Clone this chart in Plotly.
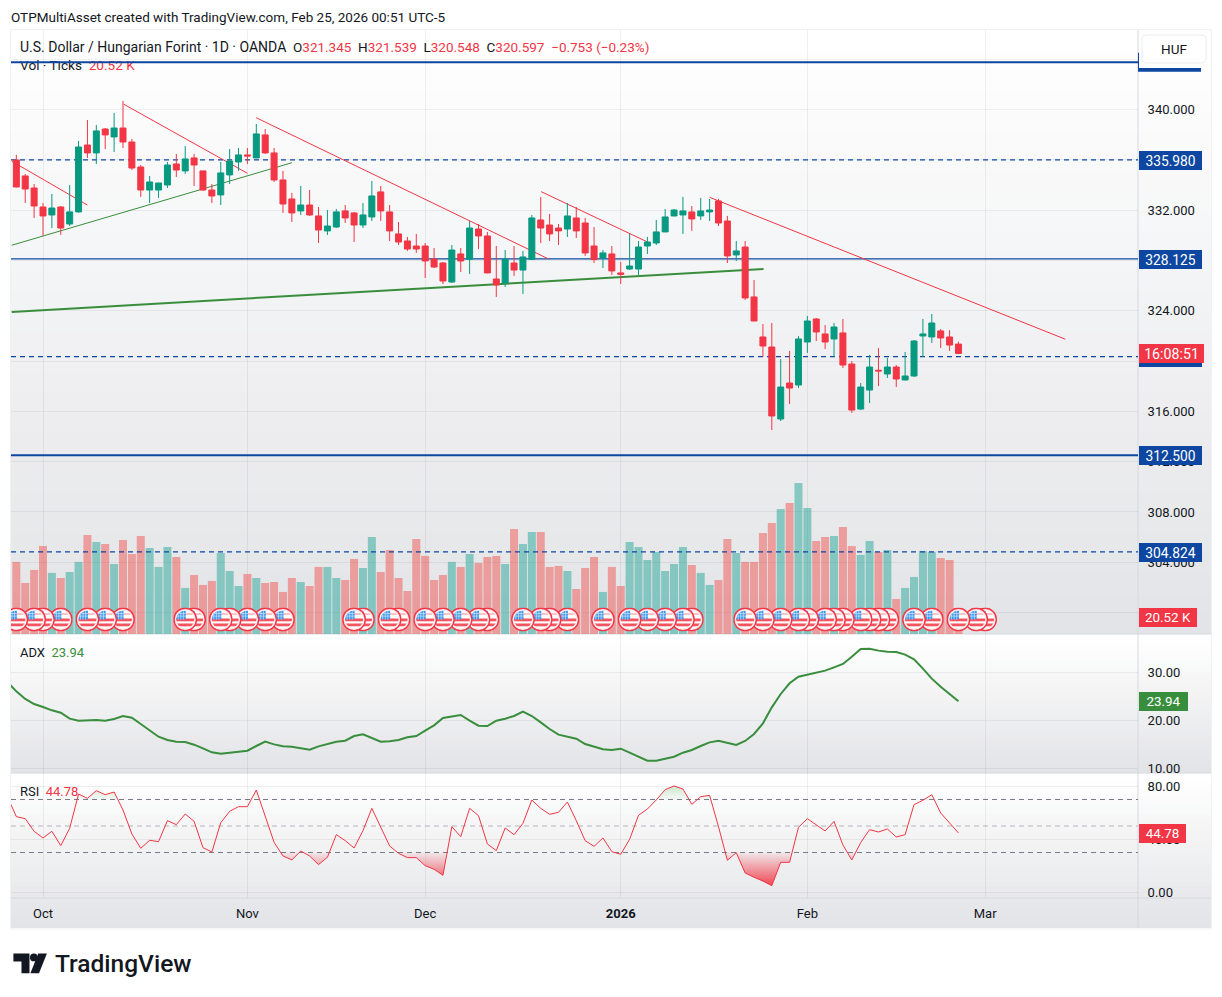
import base64
import plotly.graph_objects as go

W, H = 1222, 997

# Daily USD/HUF bars, oldest first; bar_index 0 is Sep 26 2025
bar_open = [335.98, 334.71, 333.75, 332.24, 331.61, 332.24, 330.89, 331.85, 337.17, 336.54,
            338.44, 337.81, 338.52, 337.41, 335.42, 333.59, 333.59, 333.99, 335.66, 335.11,
            336.14, 335.11, 333.59, 333.20, 334.79, 335.82, 336.38, 336.14, 337.97, 336.54,
            334.39, 332.88, 331.93, 332.40, 331.53, 330.34, 330.65, 331.93, 331.77, 330.81,
            331.45, 333.44, 331.85, 330.10, 329.54, 329.14, 329.14, 328.11, 327.79, 326.28,
            328.51, 328.08, 330.49, 329.94, 326.52, 326.20, 327.79, 327.23, 328.08, 331.21,
            330.81, 330.57, 330.49, 331.37, 330.97, 329.14, 328.19, 328.51, 327.00, 327.31,
            327.31, 329.14, 329.38, 330.26, 331.53, 331.61, 331.85, 331.53, 331.85, 332.72,
            331.13, 328.43, 329.06, 325.09, 321.91, 321.11, 315.39, 318.25, 318.09, 321.51,
            323.34, 322.15, 321.75, 322.23, 319.76, 316.18, 317.69, 319.26, 318.97, 319.52,
            318.49, 318.81, 321.99, 321.91, 322.39, 321.91, 321.345]
bar_high = [336.38, 334.87, 334.07, 332.56, 333.28, 332.32, 333.99, 337.49, 339.16, 338.76,
            338.52, 339.72, 340.67, 337.65, 335.58, 334.71, 334.15, 335.82, 336.46, 337.09,
            336.46, 335.11, 334.07, 335.82, 336.85, 336.93, 336.93, 338.84, 338.44, 336.93,
            335.11, 333.36, 333.91, 333.59, 332.24, 332.00, 332.08, 332.40, 331.85, 332.56,
            334.31, 333.91, 332.40, 331.05, 329.86, 330.10, 329.38, 328.98, 327.87, 329.22,
            328.98, 331.13, 330.89, 330.26, 329.14, 328.82, 329.14, 328.75, 331.61, 333.04,
            331.69, 330.89, 332.56, 332.24, 331.37, 330.65, 328.82, 329.14, 327.87, 330.10,
            329.54, 329.86, 331.21, 332.08, 332.08, 333.04, 332.32, 332.96, 332.88, 332.88,
            331.53, 329.54, 329.54, 326.44, 322.94, 323.02, 320.16, 320.80, 321.99, 323.58,
            323.42, 322.86, 323.02, 323.34, 320.00, 318.25, 320.48, 321.03, 320.24, 319.68,
            320.72, 321.67, 323.34, 323.74, 322.54, 322.46, 321.539]
bar_low = [333.80, 332.56, 331.37, 329.94, 330.57, 330.02, 330.73, 331.80, 336.14, 335.66,
           336.85, 336.62, 336.93, 335.18, 333.04, 332.56, 332.96, 333.75, 334.63, 334.87,
           333.91, 333.52, 332.56, 332.40, 334.07, 335.11, 335.66, 336.12, 336.46, 334.23,
           331.77, 331.05, 331.61, 331.53, 329.38, 330.02, 330.57, 330.97, 329.46, 330.57,
           331.13, 331.13, 329.54, 329.22, 328.75, 328.59, 326.60, 327.39, 326.12, 326.20,
           327.08, 326.92, 328.90, 326.98, 325.09, 325.88, 326.76, 325.33, 328.05, 329.38,
           329.54, 329.22, 329.86, 329.78, 328.35, 327.79, 327.39, 326.84, 326.12, 327.23,
           326.84, 328.51, 329.22, 330.24, 331.50, 330.10, 330.34, 331.21, 331.13, 330.73,
           327.79, 327.95, 324.85, 323.16, 320.34, 314.51, 315.23, 316.58, 317.85, 320.64,
           321.59, 320.95, 320.32, 319.44, 315.87, 316.10, 316.66, 318.01, 318.65, 317.93,
           318.47, 318.73, 320.32, 321.43, 321.03, 320.80, 320.548]
bar_close = [333.83, 333.67, 332.32, 331.53, 332.16, 330.57, 331.85, 337.01, 336.54, 338.29,
             337.97, 338.52, 337.41, 335.34, 333.59, 334.23, 334.15, 335.58, 335.18, 336.06,
             335.58, 333.59, 333.12, 334.95, 335.90, 336.38, 336.30, 338.05, 336.54, 334.39,
             332.48, 331.77, 332.40, 331.61, 330.41, 330.73, 331.85, 331.37, 330.81, 331.61,
             333.12, 331.93, 330.34, 329.46, 328.90, 328.90, 327.95, 327.47, 326.36, 328.82,
             327.95, 330.57, 329.94, 327.00, 326.04, 328.08, 327.23, 328.27, 331.37, 330.57,
             330.10, 330.34, 331.53, 330.34, 328.59, 328.06, 328.59, 327.16, 326.89, 327.55,
             329.06, 329.46, 330.26, 331.45, 332.00, 331.93, 331.29, 331.93, 332.00, 330.97,
             328.35, 328.75, 325.01, 323.18, 321.19, 315.63, 317.93, 317.85, 321.75, 323.18,
             322.31, 321.51, 322.70, 319.68, 316.10, 317.93, 319.52, 319.21, 319.52, 318.57,
             318.81, 321.59, 322.15, 323.02, 321.83, 321.27, 320.597]

# Tick volume in thousands
volume_k = [84.5, 59.8, 75.1, 103.2, 71.6, 65.7, 72.7, 84.5, 116.1, 107.9,
            105.6, 82.1, 110.3, 93.8, 115.0, 100.9, 78.6, 102.1, 90.3, 54.0,
            69.2, 57.5, 62.2, 95.0, 73.9, 56.3, 70.4, 65.7, 59.8, 61.0,
            49.3, 65.7, 61.0, 56.3, 78.6, 78.6, 65.7, 63.3, 88.0, 77.4,
            113.8, 72.7, 98.5, 65.7, 50.4, 111.4, 91.5, 63.3, 69.2, 84.5,
            78.6, 93.8, 83.3, 90.3, 91.5, 82.1, 123.2, 105.6, 119.6, 119.6,
            78.6, 79.8, 73.9, 52.8, 77.4, 90.3, 49.3, 78.6, 56.3, 107.9,
            102.1, 86.8, 96.2, 73.9, 82.1, 102.1, 80.9, 71.6, 57.5, 63.3,
            111.4, 95.0, 84.5, 84.5, 118.5, 130.2, 146.6, 153.7, 177.1, 147.8,
            109.1, 113.8, 115.0, 125.5, 103.2, 92.7, 109.1, 96.2, 98.5, 41.1,
            54.0, 66.9, 97.4, 96.2, 89.1, 86.8, 20.52]

# Oscillators start one session earlier so the lines run off the left edge
osc_index = list(range(-1, 107))
adx_values = [27.95, 26.01, 24.42, 23.38, 22.76, 22.07, 21.58, 20.34, 19.92, 20.06, 20.06,
              19.92, 20.27, 20.89, 20.55, 19.23, 17.85, 16.60, 15.91, 15.57, 15.50,
              14.94, 14.18, 13.35, 13.08, 13.28, 13.42, 13.70, 14.67, 15.57, 15.01,
              14.60, 14.53, 14.18, 13.91, 14.60, 15.15, 15.57, 15.77, 16.74, 17.09,
              16.33, 15.57, 15.64, 15.91, 16.47, 16.74, 17.85, 18.96, 20.48, 20.75,
              21.10, 19.92, 18.89, 18.82, 19.92, 20.34, 20.89, 21.79, 20.89, 19.58,
              18.19, 17.02, 16.60, 16.19, 15.08, 14.46, 13.98, 13.84, 14.11, 13.28,
              12.45, 11.62, 11.62, 12.04, 12.45, 13.28, 13.84, 14.67, 15.43, 15.77,
              15.36, 14.88, 15.71, 17.16, 19.37, 22.69, 25.46, 27.67, 29.05, 29.47,
              29.88, 30.30, 30.99, 31.68, 33.20, 34.79, 34.86, 34.45, 34.24, 34.17,
              33.62, 32.65, 30.71, 28.64, 26.98, 25.46, 23.94]
rsi_values = [72.15, 57.07, 55.56, 46.01, 40.98, 46.01, 35.20, 48.27, 74.16, 70.89, 76.68,
              73.66, 75.67, 62.10, 44.00, 33.18, 39.22, 38.21, 54.05, 51.03, 59.08,
              53.55, 33.69, 30.42, 52.54, 61.09, 64.61, 64.61, 77.18, 57.07, 37.71,
              27.40, 24.39, 31.17, 27.40, 20.87, 26.40, 43.49, 38.97, 33.44, 46.51,
              63.35, 49.53, 34.94, 29.41, 26.15, 26.15, 20.11, 17.35, 12.82, 49.53,
              41.98, 63.35, 57.82, 36.45, 31.43, 48.52, 43.49, 52.04, 69.64, 63.35,
              58.83, 60.34, 68.13, 54.05, 38.97, 34.69, 40.98, 30.67, 28.66, 39.97,
              58.07, 62.85, 69.64, 77.43, 80.20, 77.93, 66.37, 72.15, 73.16, 49.53,
              24.13, 29.92, 14.58, 11.31, 8.55, 5.03, 22.63, 22.63, 49.02, 55.56,
              50.78, 46.26, 53.55, 35.70, 24.39, 37.46, 47.26, 45.50, 47.77, 41.73,
              43.49, 66.12, 69.39, 73.66, 59.83, 52.54, 44.78]

# Horizontal levels: (price, width, dash)
price_levels = [(343.75, 2, "solid"), (335.98, 1.2, "5px,4px"), (328.125, 1.2, "solid"),
                (320.34, 1.2, "5px,4px"), (312.5, 2, "solid"), (304.824, 1.2, "5px,4px")]
level_tags = [335.98, 328.125, 312.5, 304.824]
covered_level_tag = 320.34

# Trend lines as (start index, start price, end index, end price, colour, width)
trend_lines = [(-0.52, 335.88, 7.99, 332.40, "#F23645", 1),
               (12.04, 340.43, 26.00, 334.92, "#F23645", 1),
               (26.98, 339.34, 59.88, 328.11, "#F23645", 1),
               (59.05, 333.46, 70.95, 329.48, "#F23645", 1),
               (78.00, 333.01, 118.03, 321.73, "#F23645", 1),
               (-0.52, 329.20, 31.00, 335.76, "#388E3C", 1),
               (-0.52, 323.90, 84.07, 327.31, "#388E3C", 2)]

# Sessions carrying a US economic event marker
event_bars = [0, 2, 3, 5, 8, 10, 12, 19, 20, 23, 24, 26, 28, 30, 38, 39, 42, 43, 46, 48, 50,
              52, 53, 57, 59, 60, 62, 66, 69, 71, 73, 75, 76, 82, 84, 86, 88, 89, 91, 92, 93,
              95, 96, 97, 98, 101, 103, 106, 108, 109]

time_ticks = [3, 26, 46, 68, 89, 109]
time_labels = ["Oct", "Nov", "Dec", "<b>2026</b>", "Feb", "Mar"]

# Price grid every 4; labels sitting under the level tags are left blank
price_ticks = [300, 304, 308, 312, 316, 320, 324, 328, 332, 336, 340, 344]
price_labels = ["", "304.000", "308.000", "312.000", "316.000", "", "324.000", "", "332.000",
                "", "340.000", ""]

RED = "#F23645"
TEAL = "#089981"
BLUE = "#0D47A1"
GREEN = "#388E3C"
INK = "#131722"
FONT = "Roboto"
GRID = "rgba(42,46,57,0.07)"
SEP = "#D6D8DD"

bar_index = list(range(len(bar_close)))
x_range = [-0.6, 126.2]
price_range = [298.30, 346.31]
volume_range = [0, 708.2]
adx_range = [9.07, 37.9]
rsi_range = [-4.3, 90.0]


def fx(px):
    return px / W


def fy(py):
    return 1 - py / H


def lerp_colour(a, b, t):
    return "rgb(%d,%d,%d)" % tuple(round(a[i] + (b[i] - a[i]) * t) for i in range(3))


def gradient(y0, y1, steps):
    """Vertical panel shading, painted as overlapping strips."""
    top, bottom = (255, 255, 255), (227, 228, 231)
    strips = []
    for i in range(steps):
        strips.append(dict(type="rect", layer="below", xref="paper", yref="paper",
                           x0=fx(11), x1=fx(1211), y0=fy(y1),
                           y1=fy(y0 + (y1 - y0) * i / steps),
                           line_width=0, fillcolor=lerp_colour(top, bottom, i / (steps - 1))))
    return strips


def rounded(x0, y0, x1, y1, r):
    """SVG path of a rounded rectangle in paper coordinates."""
    p = lambda x, y: f"{fx(x):.5f},{fy(y):.5f}"
    return (f"M{p(x0 + r, y0)} L{p(x1 - r, y0)} Q{p(x1, y0)} {p(x1, y0 + r)} "
            f"L{p(x1, y1 - r)} Q{p(x1, y1)} {p(x1 - r, y1)} L{p(x0 + r, y1)} "
            f"Q{p(x0, y1)} {p(x0, y1 - r)} L{p(x0, y0 + r)} Q{p(x0, y0)} {p(x0 + r, y0)} Z")


def polygon(points):
    return "M" + " L".join(f"{fx(x):.5f},{fy(y):.5f}" for x, y in points) + " Z"


def clamp_segments(limit, below):
    """Oscillator outline clipped at a band, with the crossing points inserted."""
    xs, ys = [], []
    for i, (x, v) in enumerate(zip(osc_index, rsi_values)):
        if i:
            px, pv = osc_index[i - 1], rsi_values[i - 1]
            if (pv - limit) * (v - limit) < 0:
                xs.append(px + (x - px) * (limit - pv) / (v - pv))
                ys.append(limit)
        xs.append(x)
        ys.append(min(v, limit) if below else max(v, limit))
    return xs, ys


fig = go.Figure()

# Volume sits on the base axis, so levels and candles layer above it
fig.add_trace(go.Bar(x=bar_index, y=volume_k, width=0.9, yaxis="y", xaxis="x",
                     marker=dict(line_width=0,
                                 color=["rgba(239,83,80,0.5)" if c < o else "rgba(38,166,154,0.5)"
                                        for o, c in zip(bar_open, bar_close)])))
fig.add_trace(go.Scatter(x=[0.42], y=[665.4], mode="text", yaxis="y", xaxis="x",
                         textposition="middle right",
                         text=[f"Vol · Ticks&nbsp;&nbsp;<span style='color:{RED}'>20.52 K</span>"],
                         textfont=dict(family=FONT, size=13.6, color=INK)))

for price, width, dash in price_levels:
    fig.add_trace(go.Scatter(x=x_range, y=[price, price], mode="lines", yaxis="y2", xaxis="x",
                             line=dict(color=BLUE, width=width, dash=dash)))
for x0, p0, x1, p1, colour, width in trend_lines:
    fig.add_trace(go.Scatter(x=[x0, x1], y=[p0, p1], mode="lines", yaxis="y2", xaxis="x",
                             line=dict(color=colour, width=width)))

fig.add_trace(go.Candlestick(x=bar_index, open=bar_open, high=bar_high, low=bar_low,
                             close=bar_close, yaxis="y3", xaxis="x", whiskerwidth=0,
                             increasing=dict(line=dict(color=TEAL, width=1), fillcolor=TEAL),
                             decreasing=dict(line=dict(color=RED, width=1), fillcolor=RED)))

fig.add_trace(go.Scatter(x=osc_index, y=adx_values, mode="lines", yaxis="y4", xaxis="x",
                         line=dict(color=GREEN, width=2)))

# RSI overbought and oversold shading
xs, ys = clamp_segments(30, True)
fig.add_trace(go.Scatter(x=xs, y=[30] * len(xs), mode="lines", yaxis="y5", xaxis="x",
                         line=dict(width=0)))
fig.add_trace(go.Scatter(x=xs, y=ys, mode="lines", yaxis="y5", xaxis="x", line=dict(width=0),
                         fill="tonexty",
                         fillgradient=dict(type="vertical", start=5, stop=30,
                                           colorscale=[[0, "rgba(242,54,69,0.9)"],
                                                       [1, "rgba(242,54,69,0.05)"]])))
xs, ys = clamp_segments(70, False)
fig.add_trace(go.Scatter(x=xs, y=[70] * len(xs), mode="lines", yaxis="y5", xaxis="x",
                         line=dict(width=0)))
fig.add_trace(go.Scatter(x=xs, y=ys, mode="lines", yaxis="y5", xaxis="x", line=dict(width=0),
                         fill="tonexty",
                         fillgradient=dict(type="vertical", start=70, stop=81,
                                           colorscale=[[0, "rgba(76,175,80,0.03)"],
                                                       [1, "rgba(76,175,80,0.3)"]])))
fig.add_trace(go.Scatter(x=osc_index, y=rsi_values, mode="lines", yaxis="y5", xaxis="x",
                         line=dict(color=RED, width=1)))

shapes = gradient(30, 634, 30) + gradient(634, 773, 26) + gradient(773, 928, 26)
shapes.append(dict(type="rect", layer="below", xref="paper", yref="paper", x0=fx(10.5), x1=fx(1211.5),
                   y0=fy(929), y1=fy(29.5), line=dict(color="#F0F1F3", width=1)))
for py in (634, 773, 898):
    shapes.append(dict(type="line", layer="below", xref="paper", yref="paper", x0=fx(11), x1=fx(1211),
                       y0=fy(py), y1=fy(py), line=dict(color=SEP, width=1)))
shapes.append(dict(type="line", layer="below", xref="paper", yref="paper", x0=fx(1138), x1=fx(1138),
                   y0=fy(928), y1=fy(30), line=dict(color=SEP, width=1)))
for band, colour in ((70, "#787B86"), (50, "#B2B5BE"), (30, "#787B86")):
    shapes.append(dict(type="line", layer="below", xref="paper", yref="y5", x0=fx(11), x1=fx(1138),
                       y0=band, y1=band, line=dict(color=colour, width=1, dash="5px,4px")))

# Tag of the highest level, mostly hidden under the currency button
shapes.append(dict(type="rect", layer="above", xref="paper", yref="y3", ysizemode="pixel",
                   yanchor=343.75, y0=-9.5, y1=9.5, x0=fx(1138), x1=fx(1201),
                   line_width=0, fillcolor=BLUE))
shapes.append(dict(type="rect", layer="above", xref="paper", yref="paper", x0=fx(1139), x1=fx(1211),
                   y0=fy(68), y1=fy(30), line_width=0, fillcolor="#FEFEFE"))
shapes.append(dict(type="path", layer="above", xref="paper", yref="paper",
                   path=rounded(1142, 35, 1206, 63, 5), fillcolor="#FFFFFF",
                   line=dict(color="#ECEDF0", width=1)))

# TradingView mark
shapes.append(dict(type="path", layer="above", xref="paper", yref="paper", line_width=0, fillcolor=INK,
                   path=polygon([(13.4, 953.4), (29.5, 953.4), (29.5, 973.2), (21.5, 973.2),
                                 (21.5, 961.4), (13.4, 961.4)])))
shapes.append(dict(type="circle", layer="above", xref="paper", yref="paper", line_width=0, fillcolor=INK,
                   x0=fx(30.0), x1=fx(37.8), y0=fy(961.3), y1=fy(953.5)))
shapes.append(dict(type="path", layer="above", xref="paper", yref="paper", line_width=0, fillcolor=INK,
                   path=polygon([(38.3, 953.4), (46.9, 953.4), (39.0, 973.2), (30.4, 973.2)])))


def tag(y, yref, text, colour, width, size=13.8, height=19):
    return dict(xref="paper", x=fx(1138.5), xanchor="left", yref=yref, y=y, yanchor="middle",
                text=text, showarrow=False, bgcolor=colour, width=width, height=height,
                borderpad=0, borderwidth=0, align="center", yshift=-0.5,
                font=dict(family=FONT, size=size, color="#FFFFFF"))


def label(px, py, text, size=13, weight=None):
    # The text box has a small inner pad, so the anchor sits just left of the glyphs
    return dict(xref="paper", yref="paper", x=fx(px - 2), y=fy(py), xanchor="left", yanchor="middle",
                text=text, showarrow=False, align="left",
                font=dict(family=FONT, size=size, color=INK, weight=weight))


def red(text):
    return f"<span style='color:{RED}'>{text}</span>"


annotations = [tag(covered_level_tag, "y3", " ", BLUE, 63)]
annotations += [tag(p, "y3", f"{p:.3f}", BLUE, 63) for p in level_tags]
annotations += [
    tag(320.597, "y3", "16:08:51", RED, 65, size=14.2),
    tag(20.52, "y", "20.52 K", RED, 58, size=13.4),
    tag(23.94, "y4", "23.94", GREEN, 49, size=13.4),
    tag(44.78, "y5", "44.78", RED, 47, size=13.4),
    dict(xref="paper", yref="paper", x=fx(1174), y=fy(49), xanchor="center", yanchor="middle",
         text="HUF", showarrow=False, font=dict(family=FONT, size=13.5, color=INK)),
    label(11, 17, "OTPMultiAsset created with TradingView.com, Feb 25, 2026 00:51 UTC-5", size=13.5),
    label(20, 47, "U.S. Dollar / Hungarian Forint · 1D · OANDA", size=14),
    label(293, 47, f"O{red('321.345')}&nbsp;&nbsp;H{red('321.539')}&nbsp;&nbsp;L{red('320.548')}&nbsp;&nbsp;"
                   f"C{red('320.597')}&nbsp;&nbsp;{red('−0.753 (−0.23%)')}", size=13.5),
    label(20, 652, f"ADX&nbsp;&nbsp;<span style='color:{GREEN}'>23.94</span>"),
    label(20, 791, f"RSI&nbsp;&nbsp;{red('44.78')}"),
    label(54.5, 963.5, "TradingView", size=24.5, weight=500),
]

# US flag badge used for event markers
flag_svg = """<svg xmlns='http://www.w3.org/2000/svg' viewBox='0 0 24 24' width='96' height='96'>
<defs><clipPath id='c'><circle cx='12' cy='12' r='9'/></clipPath></defs>
<circle cx='12' cy='12' r='11.2' fill='#FDECEE' stroke='#F23645' stroke-width='1.4'/>
<circle cx='12' cy='12' r='9' fill='#FFFFFF'/>
<g clip-path='url(#c)'>
<rect x='2' y='11' width='20' height='2.8' fill='#F5545F'/>
<rect x='2' y='16' width='20' height='2.8' fill='#F5545F'/>
<rect x='2' y='5.5' width='20' height='2' fill='#F9C3C7'/>
<rect x='2' y='3' width='10.5' height='8.8' fill='#3D96EE'/>
<path d='M5 3V12M7.6 3V12M10.2 3V12M3 6H12.5M3 8.6H12.5' stroke='#CFE5FB' stroke-width='.7'/>
</g></svg>"""
flag_uri = "data:image/svg+xml;base64," + base64.b64encode(flag_svg.encode()).decode()
images = [dict(source=flag_uri, xref="x", yref="y", x=i, y=17.0, sizex=2.7, sizey=28.1,
               xanchor="center", yanchor="middle", sizing="stretch", layer="above")
          for i in reversed(event_bars)]

tick_font = dict(family=FONT, size=13, color=INK)
right_axis = dict(side="right", anchor="x", ticks="outside", ticklen=6, tickcolor="rgba(0,0,0,0)",
                  gridcolor=GRID, gridwidth=1, zeroline=False, showline=False, tickfont=tick_font,
                  automargin=False, fixedrange=True)

fig.update_layout(
    width=W, height=H, margin=dict(l=0, r=0, t=0, b=0), autosize=False,
    paper_bgcolor="#FFFFFF", plot_bgcolor="rgba(0,0,0,0)", showlegend=False,
    boxmode="overlay", boxgap=0.325, boxgroupgap=0,
    shapes=shapes, annotations=annotations, images=images,
    xaxis=dict(domain=[fx(11), fx(1138)], range=x_range, anchor="y5", tickmode="array",
               tickvals=time_ticks, ticktext=time_labels, ticks="outside", ticklen=3,
               tickcolor="rgba(0,0,0,0)", showgrid=True, gridcolor=GRID, zeroline=False,
               showline=False, tickfont=tick_font, rangeslider=dict(visible=False), automargin=False),
    yaxis=dict(domain=[fy(634), fy(30)], range=volume_range, visible=False, anchor="x", fixedrange=True),
    yaxis2=dict(domain=[fy(634), fy(30)], range=price_range, visible=False, overlaying="y", anchor="x"),
    yaxis3=dict(right_axis, domain=[fy(634), fy(30)], range=price_range, overlaying="y",
                tickmode="array", tickvals=price_ticks, ticktext=price_labels),
    yaxis4=dict(right_axis, domain=[fy(773), fy(634)], range=adx_range, tickmode="linear",
                tick0=0, dtick=10, tickformat=".2f"),
    yaxis5=dict(right_axis, domain=[fy(898), fy(773)], range=rsi_range, tickmode="linear",
                tick0=0, dtick=40, tickformat=".2f"),
)

fig.write_html("out.html")
